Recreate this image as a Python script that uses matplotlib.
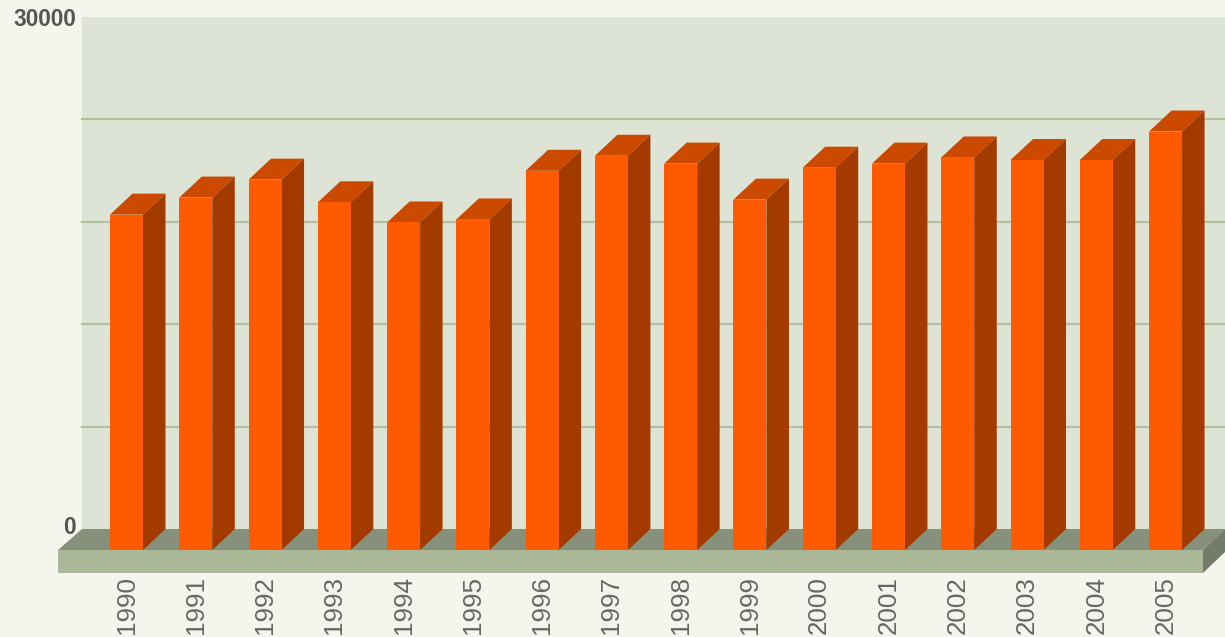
import matplotlib
matplotlib.use('Agg')
import matplotlib.pyplot as plt
from matplotlib.patches import Polygon, Rectangle

years = ['1990', '1991', '1992', '1993', '1994', '1995', '1996', '1997',
         '1998', '1999', '2000', '2001', '2002', '2003', '2004', '2005']
values = [19650, 20650, 21700, 20370, 19190, 19370, 22220, 23100,
          22640, 20530, 22400, 22640, 23000, 22850, 22850, 24520]
y_ticks = [0, 30000]
grid_values = [6000, 12000, 18000, 24000]

# scales, one bar slot = 69.27 px, 30000 = 512 px
px_x = 1 / 69.27
px_y = 30000 / 512
bar_w = 33 * px_x
dx = 22.5 * px_x
dy = 21 * px_y

plt.rcParams['font.family'] = ['Liberation Sans', 'DejaVu Sans']

fig = plt.figure(figsize=(12.25, 6.37), dpi=100, facecolor='#F5F5EE')
ax = fig.add_axes([0, 0, 1, 1])
ax.set_xlim(-126.5 * px_x, (1225 - 126.5) * px_x)
ax.set_ylim(-87 * px_y, 550 * px_y)
ax.axis('off')

xs = list(range(len(years)))
left = xs[0] - 68.5 * px_x
right = left + 1145 * px_x
right_back = right + 22 * px_x
floor_h = 23 * px_y

# back wall and grid
ax.add_patch(Rectangle((left + 24 * px_x, dy), right_back - left, 30000,
                       fc='#DDE3D5', ec='none', zorder=1))
for g in grid_values:
    ax.plot([left + 24 * px_x, right_back + 1], [g + dy, g + dy],
            color='#B3BFA0', lw=1.5, zorder=2)

# floor
ax.add_patch(Polygon([(left, 0), (right, 0), (right_back, dy), (left + 24 * px_x, dy)],
                     fc='#87907A', ec='none', zorder=3))
ax.add_patch(Rectangle((left, -floor_h), right - left, floor_h,
                       fc='#AAB898', ec='none', zorder=3))
ax.add_patch(Polygon([(right, 0), (right_back, dy), (right_back, dy - floor_h), (right, -floor_h)],
                     fc='#727C68', ec='none', zorder=3))

# bars
ax.bar(xs, values, width=bar_w, color='#FF5A00', zorder=5)
for x, v in zip(xs, values):
    l = x - bar_w / 2
    r = x + bar_w / 2
    ax.add_patch(Polygon([(l, v), (r, v), (r + dx, v + dy), (l + dx, v + dy)],
                         fc='#CC4A00', ec='none', zorder=4))
    ax.add_patch(Polygon([(r, 0), (r + dx, dy), (r + dx, v + dy), (r, v)],
                         fc='#A33A00', ec='none', zorder=4))
    ax.annotate(years[x], (x, -floor_h), xytext=(0, -3), textcoords='offset pixels',
                rotation=90, ha='center', va='top', fontsize=18.7, color='#666666')

# y labels
for t in y_ticks:
    ax.annotate(str(t), (left + 24 * px_x, t + dy), xytext=(-6, 2 if t == 0 else -2),
                textcoords='offset pixels', ha='right', va='center',
                fontsize=16.3, fontweight='bold', color='#555555')

fig.savefig('out.png', dpi=100, facecolor=fig.get_facecolor())
